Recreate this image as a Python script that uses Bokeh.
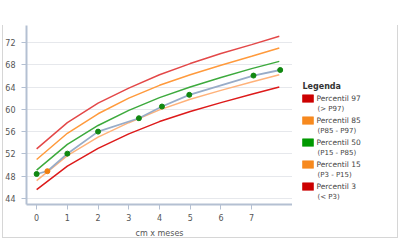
from bokeh.plotting import figure
from bokeh.layouts import row
from bokeh.models import Range1d, FixedTicker
from bokeh.core.properties import value
from bokeh.embed import file_html
from bokeh.resources import INLINE

# ---- data ----
months = [0, 1, 2, 3, 4, 5, 6, 7, 7.9]
p97 = [52.9, 57.6, 61.1, 63.8, 66.2, 68.2, 70.0, 71.6, 73.1]
p85 = [51.0, 55.7, 59.2, 62.0, 64.3, 66.2, 67.9, 69.5, 71.0]
p50 = [49.1, 53.7, 57.1, 59.8, 62.1, 64.0, 65.7, 67.3, 68.6]
p15 = [47.2, 51.7, 55.0, 57.6, 59.9, 61.8, 63.4, 64.9, 66.2]
p3 = [45.6, 49.8, 53.0, 55.6, 57.8, 59.6, 61.2, 62.7, 64.0]

obs_x = [0, 0.35, 1.0, 2.0, 3.33, 4.08, 4.97, 7.06, 7.93]
obs_y = [48.4, 48.9, 52.05, 56.0, 58.4, 60.5, 62.6, 66.05, 67.05]
obs_col = ["#118811", "#f07f10", "#118811", "#118811", "#118811",
           "#118811", "#118811", "#118811", "#118811"]

x_ticks = [0, 1, 2, 3, 4, 5, 6, 7]
y_ticks = [44, 48, 52, 56, 60, 64, 68, 72]
x_label = "cm x meses"

legend_title = "Legenda"
legend_names = ["Percentil 97", "Percentil 85", "Percentil 50", "Percentil 15", "Percentil 3"]
legend_subs = ["(> P97)", "(P85 - P97)", "(P15 - P85)", "(P3 - P15)", "(< P3)"]
legend_colors = ["#cc0000", "#f7891e", "#009900", "#f7891e", "#cc0000"]

FONT = "DejaVu Sans"

# ---- main chart ----
p = figure(width=292, height=240,
           min_border_left=26, min_border_right=0, min_border_top=25,
           min_border_bottom=35, output_backend="svg", toolbar_location=None,
           x_range=Range1d(-0.33, 8.33), y_range=Range1d(42.93, 75.03))
p.outline_line_color = None
p.background_fill_color = "white"
p.border_fill_alpha = 0

p.xgrid.grid_line_color = None
p.ygrid.grid_line_color = "#e6e8ec"
p.ygrid.grid_line_width = 1

for ax in (p.xaxis[0], p.yaxis[0]):
    ax.axis_line_color = "#b4c0d2"
    ax.axis_line_width = 2
    ax.major_tick_line_color = "#b4c0d2"
    ax.major_tick_out = 5
    ax.major_tick_in = 0
    ax.minor_tick_line_color = None
    ax.major_label_text_font = FONT
    ax.major_label_text_font_size = "8px"
    ax.major_label_text_color = "#555555"
p.xaxis.ticker = FixedTicker(ticks=x_ticks)
p.yaxis.ticker = FixedTicker(ticks=y_ticks)
p.yaxis.major_label_standoff = 6
p.xaxis.major_label_standoff = 4
p.xaxis.axis_label = x_label
p.xaxis.axis_label_text_font = FONT
p.xaxis.axis_label_text_font_size = "8px"
p.xaxis.axis_label_text_font_style = "normal"
p.xaxis.axis_label_text_color = "#555555"
p.xaxis.axis_label_standoff = 5

line_cols = ["#e34848", "#ff9a3c", "#3daa3d", "#ffb27a", "#dd1a1a"]
for ys, c in zip([p97, p85, p50, p15, p3], line_cols):
    p.line(months, ys, line_color=c, line_width=1.5)

p.line(obs_x, obs_y, line_color="#98acc8", line_width=1.8)
p.scatter(obs_x, obs_y, size=5, fill_color=obs_col, line_color=obs_col)

# ---- legend panel (pixel coordinates of the panel) ----
q = figure(width=108, height=240, min_border=0, output_backend="svg",
           toolbar_location=None, x_range=Range1d(0, 108), y_range=Range1d(240, 0))
q.axis.visible = False
q.grid.visible = False
q.outline_line_color = None
q.background_fill_alpha = 0
q.border_fill_alpha = 0

X0 = 10  # panel x of swatch left (canvas 302)
q.text(x=[X0], y=[82], text=[legend_title], text_baseline="middle",
       text_font=value(FONT), text_font_size="8px", text_font_style="bold",
       text_color="#333333")
cys = [98 + i * 29.5 for i in range(len(legend_names))]
q.quad(left=[X0] * 5, right=[X0 + 11] * 5,
       top=[c - 5 for c in cys], bottom=[c + 5 for c in cys],
       fill_color=legend_colors, line_color=legend_colors, line_alpha=0.6)
q.text(x=[X0 + 14] * 5, y=cys, text=legend_names, text_baseline="middle",
       text_font=value(FONT), text_font_size="7.5px", text_color="#444444")
q.text(x=[X0 + 15] * 5, y=[c + 13.5 for c in cys], text=legend_subs,
       text_baseline="middle", text_font=value(FONT), text_font_size="7px",
       text_color="#444444")

border_css = ("linear-gradient(#d6d6d6,#d6d6d6) 2px 25px / 1px 212px no-repeat, "
              "linear-gradient(#d6d6d6,#d6d6d6) 2px 237px / 396px 1px no-repeat, "
              "linear-gradient(#d6d6d6,#d6d6d6) 397px 25px / 1px 213px no-repeat, white")
layout = row(p, q, width=400, height=240, styles={"background": border_css})

open("out.html", "w").write(file_html(layout, INLINE))
